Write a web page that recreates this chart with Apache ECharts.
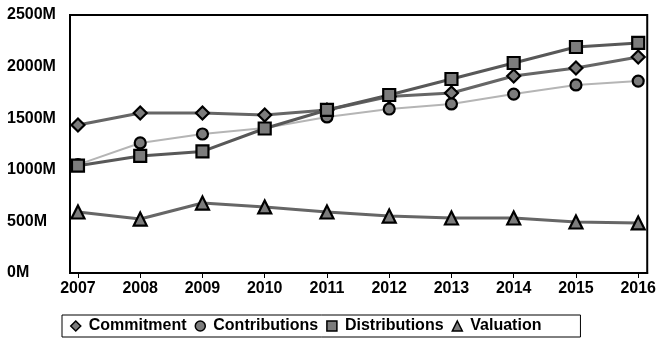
<!DOCTYPE html>
<html>
<head>
<meta charset="utf-8">
<script src="https://cdn.jsdelivr.net/npm/echarts@6/dist/echarts.min.js"></script>
<style>
  html, body { margin: 0; padding: 0; background: #fff; }
  #chart { width: 659px; height: 346px; }
</style>
</head>
<body>
<div id="chart"></div>
<script>
// Yearly totals, in millions
const years = [2007, 2008, 2009, 2010, 2011, 2012, 2013, 2014, 2015, 2016];
const commitment    = [1434, 1550, 1550, 1531, 1580, 1710, 1744, 1909, 1986, 2093];
const contributions = [1050, 1260, 1347, 1405, 1512, 1589, 1638, 1734, 1822, 1860];
const distributions = [1040, 1134, 1178, 1400, 1580, 1725, 1880, 2035, 2190, 2229];
const valuation     = [591, 523, 678, 640, 591, 552, 533, 533, 494, 485];

const pairs = vals => years.map((y, i) => [y, vals[i]]);
const FONT = 'Liberation Sans, Arial, sans-serif';

function lineSeries(name, vals, symbol, size, lineColor, lineWidth) {
  return {
    name, type: 'line', data: pairs(vals),
    symbol, symbolSize: size,
    lineStyle: { color: lineColor, width: lineWidth },
    itemStyle: { color: '#7c7c7c', borderColor: '#000', borderWidth: 2.2 },
    emphasis: { disabled: true },
    animation: false
  };
}

const chart = echarts.init(document.getElementById('chart'));
chart.setOption({
  backgroundColor: '#fff',
  grid: {
    left: 70, right: 11, top: 15, bottom: 73,
    show: true, borderColor: '#000', borderWidth: 2, backgroundColor: 'transparent'
  },
  xAxis: {
    type: 'value', min: 2006.872, max: 2016.145,
    axisLine: { show: true, lineStyle: { color: '#000', width: 2 } },
    axisTick: { show: true, customValues: years, length: 5, lineStyle: { color: '#000', width: 1 } },
    axisLabel: {
      customValues: years, formatter: v => String(v),
      color: '#000', fontFamily: FONT, fontWeight: 'bold', fontSize: 16, margin: 8
    },
    splitLine: { show: false }
  },
  yAxis: {
    type: 'value', min: 0, max: 2500, interval: 500,
    axisLine: { show: true, lineStyle: { color: '#000', width: 2 } },
    axisTick: { show: false },
    axisLabel: {
      formatter: v => v + 'M', align: 'left', margin: 63,
      color: '#000', fontFamily: FONT, fontWeight: 'bold', fontSize: 16
    },
    splitLine: { show: false }
  },
  legend: {
    left: 62, top: 315,
    padding: [3, 39, 3, 8],
    borderColor: '#000', borderWidth: 1,
    itemWidth: 10, itemHeight: 10, itemGap: 8,
    itemStyle: { color: '#7c7c7c', borderColor: '#000', borderWidth: 1.5 },
    textStyle: { color: '#000', fontFamily: FONT, fontWeight: 'bold', fontSize: 16, padding: [0, 0, 0, 3] },
    data: [
      { name: 'Commitment', icon: 'diamond' },
      { name: 'Contributions', icon: 'circle' },
      { name: 'Distributions', icon: 'rect' },
      { name: 'Valuation', icon: 'triangle' }
    ]
  },
  series: [
    lineSeries('Commitment', commitment, 'diamond', 13, '#666', 3),
    lineSeries('Contributions', contributions, 'circle', 11, '#b5b5b5', 2),
    lineSeries('Distributions', distributions, 'rect', 12, '#585858', 3),
    lineSeries('Valuation', valuation, 'triangle', 13, '#666', 3)
  ]
});
</script>
</body>
</html>
